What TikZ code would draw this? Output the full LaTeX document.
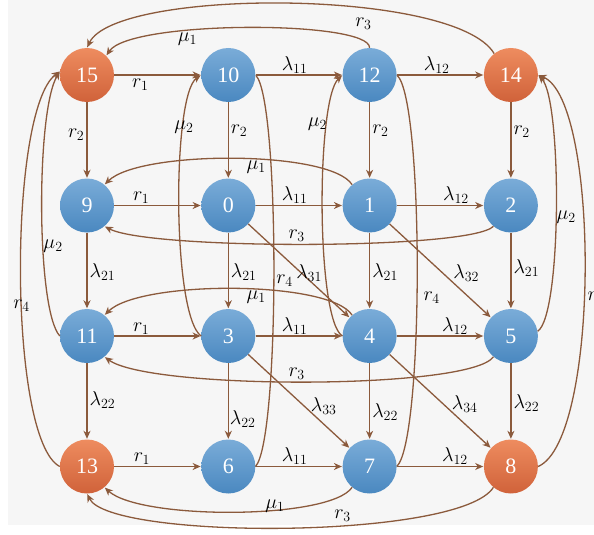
\RequirePackage{fix-cm}
\documentclass[tikz,border=0pt]{standalone}
\usepackage{amsmath}
\usepackage{fontspec}
\setmainfont{Liberation Serif}
\usepackage{tikz}
\usetikzlibrary{automata, positioning, arrows.meta}

\definecolor{brn}{RGB}{139,90,60}
\definecolor{bluetop}{RGB}{122,172,216}
\definecolor{bluebot}{RGB}{74,136,192}
\definecolor{orgtop}{RGB}{238,140,95}
\definecolor{orgbot}{RGB}{208,98,58}
\definecolor{bgfill}{RGB}{246,246,246}

\tikzset{
  bnode/.style={top color=bluetop, bottom color=bluebot},
  onode/.style={top color=orgtop, bottom color=orgbot},
  lbl/.style={inner sep=1pt, text=black, font=\fontsize{20}{20}\selectfont},
  conn/.style={draw=brn, line width=1.3pt}
}

\begin{document}
\begin{tikzpicture}[x=1pt,y=-1pt,->,>={Stealth[length=8pt,width=7pt,inset=2.5pt]},shorten >=0.5pt,node distance=141.3pt,
    every state/.style={draw=none, minimum size=54pt, inner sep=0pt, text=white, font=\fontsize{22}{22}\selectfont},
    every edge/.style={conn}]
    \useasboundingbox (0,0) rectangle (594,535);
    \fill[bgfill,-] (8,0) rectangle (594,525);

    \node[state,onode] (n15) at (87,75) {15};
    \node[state,bnode] (n10) [right of=n15] {10};
    \node[state,bnode] (n12) [right of=n10] {12};
    \node[state,onode] (n14) [right of=n12] {14};
    \node[state,bnode] (n9) [node distance=130.5pt, below of=n15] {9};
    \node[state,bnode] (n0) [right of=n9] {0};
    \node[state,bnode] (n1) [right of=n0] {1};
    \node[state,bnode] (n2) [right of=n1] {2};
    \node[state,bnode] (n11) [node distance=130.5pt, below of=n9] {11};
    \node[state,bnode] (n3) [right of=n11] {3};
    \node[state,bnode] (n4) [right of=n3] {4};
    \node[state,bnode] (n5) [right of=n4] {5};
    \node[state,onode] (n13) [node distance=130.5pt, below of=n11] {13};
    \node[state,bnode] (n6) [right of=n13] {6};
    \node[state,bnode] (n7) [right of=n6] {7};
    \node[state,onode] (n8) [right of=n7] {8};

    \path (n15) edge node[lbl, below=2pt, pos=0.3] (h1) {$r_1$} (n10)
          (n10) edge node[lbl, above, pos=0.45] (h2) {$\lambda_{11}$} (n12)
          (n12) edge node[lbl, above, pos=0.46] (h3) {$\lambda_{12}$} (n14)
          (n9) edge node[lbl, above, pos=0.31] (h4) {$r_1$} (n0)
          (n0) edge node[lbl, above, pos=0.45] (h5) {$\lambda_{11}$} (n1)
          (n1) edge node[lbl, above, pos=0.68] (h6) {$\lambda_{12}$} (n2)
          (n11) edge node[lbl, above, pos=0.31] (h7) {$r_1$} (n3)
          (n3) edge node[lbl, above, pos=0.45] (h8) {$\lambda_{11}$} (n4)
          (n4) edge node[lbl, above, pos=0.67] (h9) {$\lambda_{12}$} (n5)
          (n13) edge node[lbl, above, pos=0.32] (h10) {$r_1$} (n6)
          (n6) edge node[lbl, above, pos=0.45] (h11) {$\lambda_{11}$} (n7)
          (n7) edge node[lbl, above, pos=0.67] (h12) {$\lambda_{12}$} (n8);

    \path (n15) edge node[lbl, left=1pt, pos=0.43] (v1) {$r_2$} (n9)
          (n10) edge node[lbl, right=1pt, pos=0.37] (v2) {$r_2$} (n0)
          (n12) edge node[lbl, right=1pt, pos=0.37] (v3) {$r_2$} (n1)
          (n14) edge node[lbl, right=1pt, pos=0.39] (v4) {$r_2$} (n2)
          (n9) edge node[lbl, right=1pt, pos=0.52] (v5) {$\lambda_{21}$} (n11)
          (n0) edge node[lbl, right=1pt, pos=0.52] (v6) {$\lambda_{21}$} (n3)
          (n1) edge node[lbl, right=1pt, pos=0.52] (v7) {$\lambda_{21}$} (n4)
          (n2) edge node[lbl, right=1pt, pos=0.47] (v8) {$\lambda_{21}$} (n5)
          (n11) edge node[lbl, right=1pt, pos=0.48] (v9) {$\lambda_{22}$} (n13)
          (n3) edge node[lbl, right=0pt, pos=0.74] (v10) {$\lambda_{22}$} (n6)
          (n4) edge node[lbl, right=1pt, pos=0.64] (v11) {$\lambda_{22}$} (n7)
          (n5) edge node[lbl, right=1pt, pos=0.52] (v12) {$\lambda_{22}$} (n8);

    \path (n0) edge node[lbl, above=-3pt, pos=0.6] (d1) {$\lambda_{31}$} (n4)
          (n1) edge node[lbl, above right=-1pt, pos=0.62] (d2) {$\lambda_{32}$} (n5)
          (n3) edge node[lbl, above right=-4pt, pos=0.63] (d3) {$\lambda_{33}$} (n7)
          (n4) edge node[lbl, above right=-3pt, pos=0.62] (d4) {$\lambda_{34}$} (n8);

    \draw[conn] (n12.90) .. controls (370,20) and (130,20) .. (n15.45) node[lbl, pos=0.66, below=0pt] (m1a) {$\mu_1$};
    \draw[conn] (n14.128) .. controls (455,-12) and (115,-12) .. (n15.90) node[lbl, pos=0.36, below=8pt] (r3a) {$r_3$};
    \draw[conn] (n1.130) .. controls (330,150) and (140,150) .. (n9.50) node[lbl, pos=0.43, below=0pt] (m1b) {$\mu_1$};
    \draw[conn] (n2.230) .. controls (470,250) and (150,250) .. (n9.310) node[lbl, pos=0.52, above=1pt] (r3b) {$r_3$};
    \draw[conn] (n4.130) .. controls (330,280) and (140,280) .. (n11.50) node[lbl, pos=0.43, below=0pt] (m1c) {$\mu_1$};
    \draw[conn] (n5.230) .. controls (470,390) and (150,390) .. (n11.310) node[lbl, pos=0.52, above=1pt] (r3c) {$r_3$};
    \draw[conn] (n7.230) .. controls (330,520) and (140,520) .. (n13.310) node[lbl, pos=0.37, above=-4pt] (m1d) {$\mu_1$};
    \draw[conn] (n8.230) .. controls (460,540) and (110,540) .. (n13.270) node[lbl, pos=0.4, above=3pt] (r3d) {$r_3$};

    \draw[conn] (n11.west) .. controls (36,310) and (36,110) .. (n15.172) node[lbl, pos=0.39, right=-1pt] (m2a) {$\mu_2$};
    \draw[conn] (n13.west) .. controls (8,440) and (8,110) .. (n15.172) node[lbl, pos=0.44] (r4a) {$r_4$};
    \draw[conn] (n3.west) .. controls (172,315) and (172,95) .. (n10.west) node[lbl, pos=0.73] (m2b) {$\mu_2$};
    \draw[conn,-] (n6.east) .. controls (280,440) and (280,100) .. (n10.east) node[lbl, pos=0.48, right=1pt] (r4b) {$r_4$};
    \draw[conn] (n4.west) .. controls (316,320) and (316,100) .. (n12.west) node[lbl, pos=0.75, left=-1pt] (m2c) {$\mu_2$};
    \draw[conn,-] (n7.east) .. controls (424,440) and (424,100) .. (n12.east) node[lbl, pos=0.45, right=5pt] (r4c) {$r_4$};
    \draw[conn] (n5.10) .. controls (562,315) and (562,100) .. (n14.east) node[lbl, pos=0.47, right=-1pt] (m2d) {$\mu_2$};
    \draw[conn] (n8.east) .. controls (600,440) and (600,100) .. (n14.east) node[lbl, pos=0.45, right=2pt] (r4d) {$r_4$};
\end{tikzpicture}
\end{document}
